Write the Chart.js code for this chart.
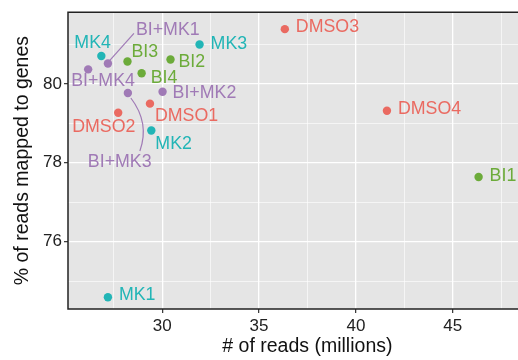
<!DOCTYPE html>
<html>
<head>
<meta charset="utf-8">
<script src="https://cdn.jsdelivr.net/npm/chart.js@4"></script>
<style>
	html, body { margin: 0; padding: 0; background: #fff; overflow: hidden; }
	#wrap { width: 518px; height: 360px; overflow: hidden; }
</style>
</head>
<body>
<div id="wrap"><canvas id="scatter" width="551" height="360"></canvas></div>
<script>
// samples, read counts (millions) and % mapped
const sampleNames = ['DMSO1', 'DMSO2', 'DMSO3', 'DMSO4', 'BI1', 'BI2', 'BI3', 'BI4', 'MK1', 'MK2', 'MK3', 'MK4', 'BI+MK1', 'BI+MK2', 'BI+MK3', 'BI+MK4'];
const sampleGroups = ['DMSO', 'DMSO', 'DMSO', 'DMSO', 'BI', 'BI', 'BI', 'BI', 'MK', 'MK', 'MK', 'MK', 'BI+MK', 'BI+MK', 'BI+MK', 'BI+MK'];
const readsMillions = [29.37, 27.73, 36.33, 41.6, 46.33, 30.43, 28.21, 28.94, 27.2, 29.44, 31.93, 26.86, 27.2, 30.02, 28.23, 26.18];
const pctMapped = [79.5, 79.27, 81.39, 79.32, 77.64, 80.62, 80.57, 80.27, 74.59, 78.82, 81.0, 80.71, 80.52, 79.8, 79.77, 80.37];

const groups = ['DMSO', 'BI', 'MK', 'BI+MK'];
const groupColors = ['#EA6A61', '#6CAB3A', '#22B5B6', '#A07AB6'];

const xTicks = [30, 35, 40, 45];
const yTicks = [76, 78, 80];
const xRange = [25.14, 49.85];
const yRange = [74.29, 81.82];

// label placement (pixels from the point: left edge, vertical middle)
const labelOffsets = {
	'DMSO1': [5, 12], 'DMSO2': [-46, 14], 'DMSO3': [11, -2], 'DMSO4': [11, -2],
	'BI1': [11, -1], 'BI2': [8, 3], 'BI3': [4, -9], 'BI4': [9, 5],
	'MK1': [11, -2], 'MK2': [4, 14], 'MK3': [11, 0], 'MK4': [-27, -13],
	'BI+MK1': [28, -33], 'BI+MK2': [10, 1], 'BI+MK3': [-40, 69], 'BI+MK4': [-17, 12],
};
// connector lines: start, control, end (pixels from the point)
const connectors = {
	'BI+MK1': [[1, -2], null, [26, -30]],
	'BI+MK3': [[3, 5], [22, 30], [12, 58]],
};

const minorX = [27.5, 32.5, 37.5, 42.5, 47.5];
const minorY = [75, 77, 79, 81];
const fontFamily = '"Liberation Sans", Arial, Helvetica, sans-serif';

const datasets = groups.map((g, gi) => {
	const points = [];
	sampleNames.forEach((name, i) => {
		if (sampleGroups[i] === g) points.push({ x: readsMillions[i], y: pctMapped[i], name });
	});
	return {
		label: g,
		data: points,
		backgroundColor: groupColors[gi],
		borderWidth: 0,
		pointRadius: 4.2,
		pointHoverRadius: 4.2,
	};
});

const isMajor = (v, majors) => majors.some(m => Math.abs(m - v) < 1e-6);

const panelPlugin = {
	id: 'panel',
	beforeDraw(chart) {
		const { ctx, chartArea: a } = chart;
		ctx.save();
		ctx.fillStyle = '#E5E5E5';
		ctx.fillRect(a.left, a.top, a.right - a.left, a.bottom - a.top);
		ctx.restore();
	},
	afterDraw(chart) {
		const { ctx, chartArea: a } = chart;
		ctx.save();
		ctx.strokeStyle = '#222';
		ctx.lineWidth = 1.5;
		ctx.beginPath();
		ctx.moveTo(a.left, a.bottom);
		ctx.lineTo(a.left, a.top);
		ctx.lineTo(a.right, a.top);
		ctx.lineTo(a.right, a.bottom);
		ctx.closePath();
		ctx.stroke();
		ctx.restore();
	},
};

const labelPlugin = {
	id: 'pointLabels',
	afterDatasetsDraw(chart) {
		const { ctx } = chart;
		ctx.save();
		ctx.font = '17.8px ' + fontFamily;
		ctx.textBaseline = 'middle';
		ctx.textAlign = 'left';
		chart.data.datasets.forEach((ds, di) => {
			const meta = chart.getDatasetMeta(di);
			ds.data.forEach((p, i) => {
				const el = meta.data[i];
				const [dx, dy] = labelOffsets[p.name];
				const con = connectors[p.name];
				if (con) {
					ctx.strokeStyle = ds.backgroundColor;
					ctx.lineWidth = 1.2;
					ctx.beginPath();
					ctx.moveTo(el.x + con[0][0], el.y + con[0][1]);
					if (con[1]) {
						ctx.quadraticCurveTo(el.x + con[1][0], el.y + con[1][1], el.x + con[2][0], el.y + con[2][1]);
					} else {
						ctx.lineTo(el.x + con[2][0], el.y + con[2][1]);
					}
					ctx.stroke();
				}
				ctx.fillStyle = ds.backgroundColor;
				ctx.fillText(p.name, el.x + dx, el.y + dy);
			});
		});
		ctx.restore();
	},
};

new Chart(document.querySelector('#scatter'), {
	type: 'scatter',
	data: { datasets },
	options: {
		responsive: false,
		animation: false,
		layout: { padding: { top: 6, right: 1, left: 0, bottom: 0 } },
		plugins: {
			legend: { display: false },
			tooltip: { enabled: false },
		},
		scales: {
			x: {
				type: 'linear',
				min: xRange[0],
				max: xRange[1],
				afterBuildTicks: scale => {
					scale.ticks = [...xTicks, ...minorX].sort((a, b) => a - b).map(v => ({ value: v }));
				},
				afterFit: scale => { scale.height = 51; },
				ticks: {
					autoSkip: false,
					maxRotation: 0,
					padding: 3,
					color: '#222',
					font: { size: 17, family: fontFamily },
					callback: v => (isMajor(v, xTicks) ? String(v) : ''),
				},
				grid: {
					color: '#FFFFFF',
					lineWidth: c => (isMajor(c.tick.value, xTicks) ? 1.3 : 0.6),
					tickColor: c => (isMajor(c.tick.value, xTicks) ? '#333' : 'rgba(0,0,0,0)'),
					tickLength: 4,
					tickWidth: 1.2,
				},
				border: { display: false },
				title: {
					display: true,
					text: '# of reads (millions)',
					color: '#111',
					font: { size: 19.5, family: fontFamily },
					padding: { top: 0, bottom: 2 },
				},
			},
			y: {
				type: 'linear',
				min: yRange[0],
				max: yRange[1],
				afterBuildTicks: scale => {
					scale.ticks = [...yTicks, ...minorY].sort((a, b) => a - b).map(v => ({ value: v }));
				},
				afterFit: scale => { scale.width = 68; },
				ticks: {
					autoSkip: false,
					padding: 2,
					color: '#222',
					font: { size: 17, family: fontFamily },
					callback: v => (isMajor(v, yTicks) ? String(v) : ''),
				},
				grid: {
					color: '#FFFFFF',
					lineWidth: c => (isMajor(c.tick.value, yTicks) ? 1.3 : 0.6),
					tickColor: c => (isMajor(c.tick.value, yTicks) ? '#333' : 'rgba(0,0,0,0)'),
					tickLength: 4,
					tickWidth: 1.2,
				},
				border: { display: false },
				title: {
					display: true,
					text: '% of reads mapped to genes',
					color: '#111',
					font: { size: 19.5, family: fontFamily },
					padding: { top: 11, bottom: 0 },
				},
			},
		},
	},
	plugins: [panelPlugin, labelPlugin],
});
</script>
</body>
</html>
